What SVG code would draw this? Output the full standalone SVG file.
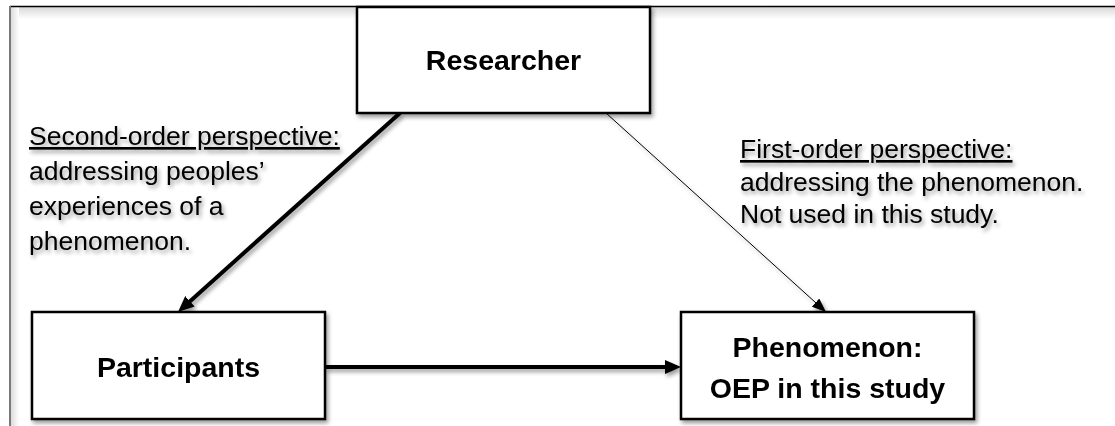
<svg xmlns="http://www.w3.org/2000/svg" width="1115" height="426" viewBox="0 0 1115 426">
  <style>
    .box { fill: #ffffff; stroke: #000000; stroke-width: 2.5; }
    .title { font-family: "Liberation Sans", Arial, sans-serif; font-weight: bold; font-size: 28.5px; fill: #000000; text-anchor: middle; }
    .note { font-family: "Liberation Sans", Arial, sans-serif; font-size: 26.5px; fill: #000000; }
    .thick { stroke: #000000; stroke-width: 4; fill: none; }
    .thin { stroke: #000000; stroke-width: 1; fill: none; }
  </style>
  <defs>
    <filter id="shadow" x="-10%" y="-10%" width="130%" height="140%">
      <feGaussianBlur in="SourceAlpha" stdDeviation="2"/>
      <feOffset dx="2" dy="3" result="blur"/>
      <feComponentTransfer><feFuncA type="linear" slope="0.4"/></feComponentTransfer>
      <feMerge><feMergeNode/><feMergeNode in="SourceGraphic"/></feMerge>
    </filter>
    <marker id="headBig" markerUnits="userSpaceOnUse" markerWidth="16" markerHeight="14" refX="8" refY="7" orient="auto">
      <path d="M0,0 L16,7 L0,14 z" fill="#000000"/>
    </marker>
    <marker id="headSmall" markerUnits="userSpaceOnUse" markerWidth="14" markerHeight="11" refX="7" refY="5.5" orient="auto">
      <path d="M0,0 L14,5.5 L0,11 z" fill="#000000"/>
    </marker>
    <linearGradient id="topFade" x1="0" y1="0" x2="0" y2="1">
      <stop offset="0" stop-color="#d8d8d8"/>
      <stop offset="1" stop-color="#ffffff"/>
    </linearGradient>
    <linearGradient id="leftFade" x1="0" y1="0" x2="1" y2="0">
      <stop offset="0" stop-color="#dcdcdc"/>
      <stop offset="1" stop-color="#ffffff"/>
    </linearGradient>
  </defs>

  <!-- page frame -->
  <g id="frame">
    <rect x="0" y="0" width="1115" height="426" fill="#ffffff"/>
    <rect x="11" y="7" width="1104" height="12" fill="url(#topFade)"/>
    <rect x="11" y="7" width="8" height="419" fill="url(#leftFade)"/>
    <line x1="10" y1="6.5" x2="1115" y2="6.5" stroke="#000000" stroke-width="1.5"/>
    <line x1="10" y1="6" x2="10" y2="426" stroke="#7a7a7a" stroke-width="2"/>
  </g>

  <!-- connectors -->
  <g id="connectors" filter="url(#shadow)">
    <line class="thick" x1="400" y1="113" x2="183.96" y2="306.66" marker-end="url(#headBig)"/>
    <line class="thin" x1="606" y1="113" x2="820.8" y2="307.3" marker-end="url(#headSmall)"/>
    <line class="thick" x1="325" y1="367" x2="673" y2="367" marker-end="url(#headBig)"/>
  </g>

  <!-- nodes -->
  <g id="researcher" filter="url(#shadow)">
    <rect class="box" x="357" y="7" width="293" height="106"/>
    <text class="title" x="503.5" y="70">Researcher</text>
  </g>
  <g id="participants" filter="url(#shadow)">
    <rect class="box" x="32" y="312" width="293" height="107"/>
    <text class="title" x="178.5" y="377">Participants</text>
  </g>
  <g id="phenomenon" filter="url(#shadow)">
    <rect class="box" x="681" y="312" width="293" height="107"/>
    <text class="title" x="827.5" y="357">Phenomenon:</text>
    <text class="title" x="827.5" y="398">OEP in this study</text>
  </g>

  <!-- perspective notes -->
  <g id="second-order" filter="url(#shadow)">
    <text class="note" x="29" y="145" text-decoration="underline">Second-order perspective:</text>
    <text class="note" x="29" y="180">addressing peoples’</text>
    <text class="note" x="29" y="215">experiences of a</text>
    <text class="note" x="29" y="250">phenomenon.</text>
  </g>
  <g id="first-order" filter="url(#shadow)">
    <text class="note" x="740" y="158" text-decoration="underline">First-order perspective:</text>
    <text class="note" x="740" y="191">addressing the phenomenon.</text>
    <text class="note" x="740" y="223">Not used in this study.</text>
  </g>
</svg>
